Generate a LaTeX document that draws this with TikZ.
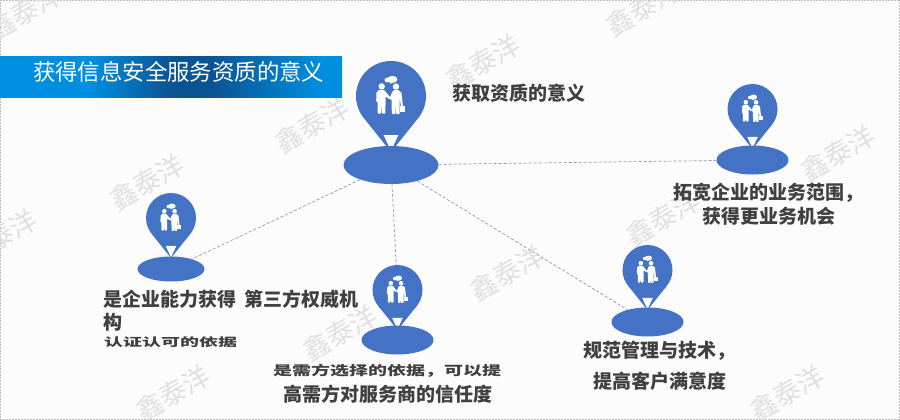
\documentclass[tikz,border=0pt]{standalone}
\usepackage{fontspec}
\setmainfont{Noto Sans CJK SC}
\usetikzlibrary{shapes.geometric}
\definecolor{pinblue}{HTML}{4472C4}
\definecolor{txt}{HTML}{404040}
\definecolor{wm}{HTML}{E0E0E0}
\definecolor{dashc}{HTML}{8A9ABA}
\pgfdeclarehorizontalshading{hdrshade}{100bp}{rgb(0bp)=(0,.56,.88); rgb(38bp)=(0,.56,.88); rgb(50bp)=(.04,.33,.58); rgb(56bp)=(.04,.33,.58); rgb(72bp)=(0,.56,.88); rgb(100bp)=(0,.56,.88)}
\tikzset{
  mark wm/.style={text=wm,rotate=30,inner sep=0pt,font=\fontsize{27}{30}\selectfont},
  lab/.style={anchor=west,inner sep=0pt,text=txt,font=\fontsize{19}{22}\selectfont\bfseries},
  link/.style={draw=dashc,line width=.7pt,densely dashed},
  head/.style={circle,fill=pinblue,inner sep=0pt},
  base/.style={ellipse,fill=pinblue,inner sep=0pt},
}
% name, head x, head y, radius, ellipse y, ellipse width, ellipse height
\newcommand{\pinmark}[7]{%
  \node[head,minimum size=2*#4] (#1h) at (#2,#3) {};
  \begin{scope}[shift={(#2,#3)},scale=#4/35]
    \fill[pinblue] (-26.8,22.5) -- (0,56) -- (26.8,22.5) -- cycle;
    \fill[white] (-7.4,39) -- (7.4,39) -- (0,55) -- cycle;
    \fill[white] (-9.3,-9.6) circle (3.2);
    \fill[white] (5,-9.4) circle (3.2);
    \fill[white,rounded corners=.6] (-14.6,-3.5) -- (-12.2,-6) -- (-6.8,-6) -- (-4.8,-3.5) -- (-.6,1.6) -- (-1.8,3.2) -- (-5.4,.4) -- (-5.6,17.5) -- (-9,17.5) -- (-9.4,7.5) -- (-9.9,17.5) -- (-13.4,17.5) -- (-13.4,6) -- (-14.8,5.5) -- cycle;
    \fill[white,rounded corners=.6] (-1.5,2.6) -- (1.2,-4) -- (2.8,-5.8) -- (7.6,-5.8) -- (10.4,-3.5) -- (12,10) -- (10,10.4) -- (8.6,2) -- (8.6,18) -- (5,18) -- (4.6,8) -- (4.2,18) -- (.8,18) -- (.6,3) -- (-.4,4) -- cycle;
    \fill[white] (8.5,10) rectangle (14.2,15.5);
    \fill[white] (-3.4,-16) ellipse (3 and 2.5);
    \fill[white] (1.4,-16.6) ellipse (5 and 3.6);
    \fill[white] (-.6,-14.5) -- (1.6,-14) -- (-.8,-12) -- cycle;
  \end{scope}
  \node[base,minimum width=#6,minimum height=#7] (#1) at (#2,#5) {};
}
\begin{document}
\begin{tikzpicture}[x=1pt,y=-1pt]
\useasboundingbox (0,0) rectangle (900,420);
\fill[white!99!black] (0,0) rectangle (900,420);
\draw[gray!50,densely dotted,line width=.5pt] (.4,.4) rectangle (899.6,419.6);
% watermarks
\foreach \wx/\wy/\wn in {25/12/a,147/182/b,312/125/c,483/62/d,643/8/e,838/153/f,663/218/g,507/273/h,340/333/i,173/393/j,787/393/k,0/237/l}{
  \node[mark wm] (w\wn) at (\wx,\wy) {鑫泰洋};
}
% header
\node[rectangle,shading=hdrshade,minimum width=342,minimum height=41,inner sep=0pt,anchor=north west] (hdr) at (0,56) {};
\node[anchor=west,inner sep=0pt,text=white,font=\fontsize{22.4}{25}\selectfont] (title) at (33,72) {获得信息安全服务资质的意义};
% pins
\pinmark{big}{391}{96}{35}{165}{95}{38}
\pinmark{rt}{752.5}{109}{25}{160}{72}{29}
\pinmark{lf}{171}{218}{25}{269}{67}{25}
\pinmark{md}{397.5}{290}{25}{340}{72}{29}
\pinmark{lr}{647.5}{270}{25}{322}{72}{29}
% connectors
\draw[link] (big) -- (rt);
\draw[link] (big) -- (lf);
\draw[link] (big) -- (mdh);
\draw[link] (big) -- (lr);
% labels
\node[lab] (t0) at (452,93) {获取资质的意义};
\node[lab] (t1) at (673,193) {拓宽企业的业务范围，};
\node[lab] (t2) at (702,216) {获得更业务机会};
\node[lab] (t3) at (103,299) {是企业能力获得\hspace{8pt}第三方权威机};
\node[lab] (t4) at (103,322) {构};
\node[lab] (t5) at (104,342) {\scalebox{1}[.6]{认证认可的依据}};
\node[lab] (t6) at (273,371) {\scalebox{1}[.68]{是需方选择的依据，可以提}};
\node[lab] (t7) at (283,394) {高需方对服务商的信任度};
\node[lab] (t8) at (583,351) {规范管理与技术，};
\node[lab] (t9) at (593,381) {提高客户满意度};
\end{tikzpicture}
\end{document}
